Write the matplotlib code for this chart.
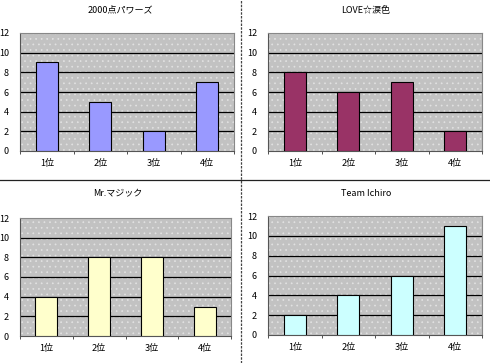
import matplotlib.pyplot as plt
import numpy as np

plt.rcParams['font.family'] = ['Noto Sans CJK JP', 'DejaVu Sans']
plt.rcParams['hatch.linewidth'] = 0.5

# data
ranks = ["1位", "2位", "3位", "4位"]
titles = ["2000点パワーズ", "LOVE☆涙色", "Mr.マジック", "Team Ichiro"]
powers = [9, 5, 2, 7]
love = [8, 6, 7, 2]
magic = [4, 8, 8, 3]
ichiro = [2, 4, 6, 11]
series = [powers, love, magic, ichiro]
colors = ["#9999FF", "#993366", "#FFFFCC", "#CCFFFF"]

W, H = 490, 363
fig = plt.figure(figsize=(W / 100, H / 100), dpi=100)
fig.patch.set_facecolor("white")

# axes boxes in pixels: left, top, right, bottom
boxes = [(20, 33, 234, 151), (268, 33, 482, 151),
         (20, 218, 231, 336), (268, 216, 482, 335)]
title_pos = [(120, 10), (366, 10), (118, 194), (366, 194)]

for vals, col, title, box, tp in zip(series, colors, titles, boxes, title_pos):
    l, t, r, b = box
    ax = fig.add_axes([l / W, 1 - b / H, (r - l) / W, (b - t) / H])
    ax.set_facecolor("#C2C2C2")
    ax.patch.set_hatch("...")
    ax.patch.set_edgecolor("#E2E2E2")
    ax.patch.set_linewidth(0)
    x = np.arange(len(ranks))
    ax.bar(x, vals, width=0.42, color=col, edgecolor="black", linewidth=0.8, zorder=3)
    ax.set_xlim(-0.5, 3.5)
    ax.set_ylim(0, 12)
    ax.set_yticks(range(0, 13, 2))
    for yv in range(2, 12, 2):
        ax.axhline(yv, color="black", linewidth=0.9, zorder=2)
    ax.set_xticks(x)
    ax.set_xticklabels(ranks)
    ax.set_xticks(np.arange(-0.5, 4, 1), minor=True)
    ax.tick_params(axis="x", which="major", length=0, pad=6, labelsize=6.5)
    ax.tick_params(axis="x", which="minor", length=2, color="#333333")
    ax.tick_params(axis="y", length=0, pad=8, labelsize=6.5)
    for s in ["top", "right"]:
        ax.spines[s].set_color("#888888")
        ax.spines[s].set_linewidth(0.8)
    for s in ["left", "bottom"]:
        ax.spines[s].set_color("#555555")
        ax.spines[s].set_linewidth(0.8)
    fig.text(tp[0] / W, 1 - tp[1] / H, title, ha="center", va="center", fontsize=6.5)

# panel separators
fig.add_artist(plt.Line2D([241 / W, 241 / W], [0, 1], color="#444444",
                          linewidth=0.9, linestyle=(0, (2, 1))))
fig.add_artist(plt.Line2D([0, 1], [1 - 180 / H, 1 - 180 / H], color="#222222",
                          linewidth=0.9))

fig.savefig("out.png", dpi=100)
